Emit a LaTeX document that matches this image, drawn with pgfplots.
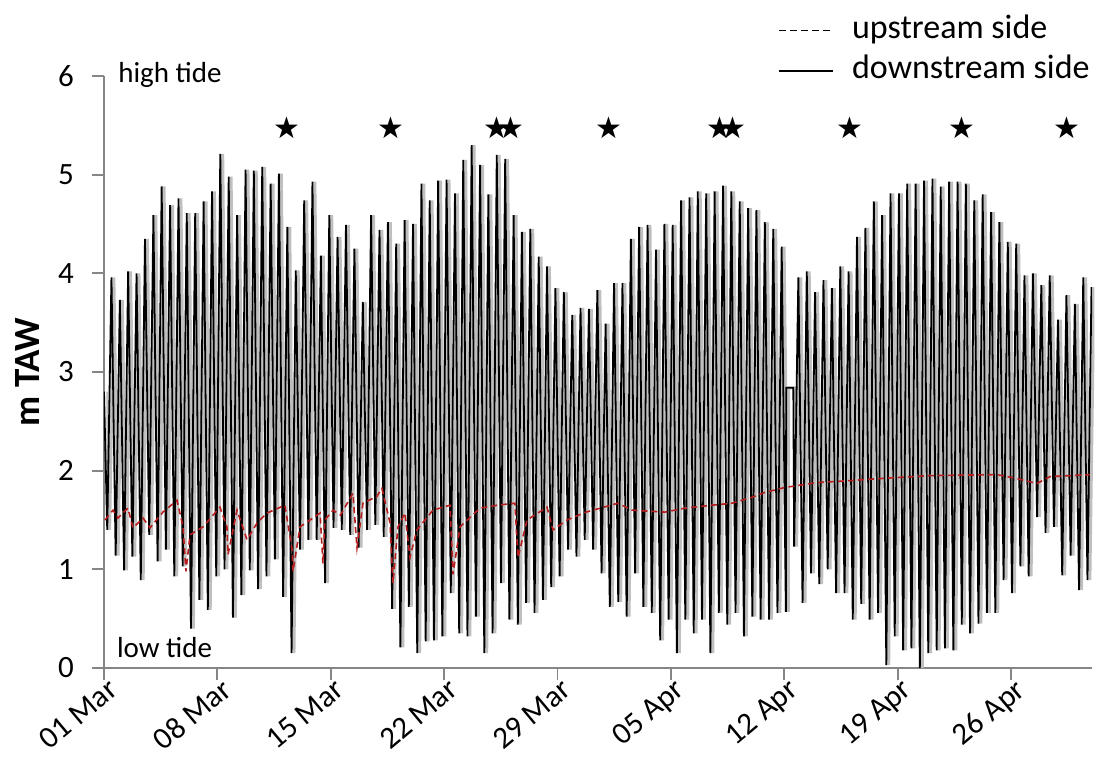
\documentclass[border=0pt]{standalone}
\usepackage{pgfplots}
\pgfplotsset{compat=1.18}
\usepackage{pgfplotstable}
\usepackage{fontspec}
\setmainfont{Carlito}
\newfontfamily\symfont{DejaVu Sans}
\usetikzlibrary{calc}
\definecolor{axgray}{RGB}{134,134,134}
\definecolor{upred}{RGB}{185,30,30}

\pgfplotstableread{
t v
0.00 2.80
0.20 1.40
0.46 3.96
0.72 1.14
0.98 3.73
1.24 0.99
1.49 4.02
1.75 1.13
2.01 4.00
2.27 0.89
2.53 4.35
2.79 1.35
3.05 4.59
3.31 1.08
3.56 4.88
3.82 1.20
4.08 4.69
4.34 0.93
4.60 4.76
4.86 1.03
5.11 4.61
5.37 0.40
5.63 4.61
5.89 0.69
6.15 4.73
6.41 0.59
6.67 4.83
6.93 0.93
7.18 5.21
7.44 1.00
7.70 4.98
7.96 0.51
8.22 4.59
8.48 0.74
8.74 5.05
9.00 0.99
9.25 5.04
9.51 0.80
9.77 5.08
10.03 0.93
10.29 4.91
10.55 1.10
10.80 5.01
11.06 0.72
11.32 4.47
11.58 0.15
11.84 4.03
12.10 1.20
12.36 4.74
12.62 1.30
12.87 4.93
13.13 1.30
13.39 4.18
13.65 0.86
13.91 4.59
14.17 1.42
14.42 4.37
14.68 1.40
14.94 4.49
15.20 1.35
15.46 4.25
15.72 1.22
15.98 3.71
16.24 1.40
16.49 4.59
16.75 1.45
17.01 4.44
17.27 1.33
17.53 4.52
17.79 0.60
18.04 4.30
18.30 0.21
18.56 4.54
18.82 0.62
19.08 4.50
19.34 0.15
19.60 4.91
19.86 0.27
20.11 4.74
20.37 0.28
20.63 4.94
20.89 0.32
21.15 4.95
21.41 0.76
21.67 4.81
21.93 0.35
22.18 5.15
22.44 0.32
22.70 5.30
22.96 0.52
23.22 5.10
23.48 0.15
23.73 4.80
23.99 0.35
24.25 5.20
24.51 0.86
24.77 5.16
25.03 0.49
25.29 4.59
25.55 0.44
25.80 4.42
26.06 0.66
26.32 4.45
26.58 0.56
26.84 4.17
27.10 0.69
27.35 4.07
27.61 0.82
27.87 3.85
28.13 0.93
28.39 3.81
28.65 1.20
28.91 3.58
29.17 1.13
29.42 3.65
29.68 1.30
29.94 3.64
30.20 1.20
30.46 3.83
30.72 0.96
30.97 3.49
31.23 0.62
31.49 3.90
31.75 0.67
32.01 3.90
32.27 0.52
32.53 4.35
32.79 0.96
33.04 4.47
33.30 0.62
33.56 4.49
33.82 0.56
34.08 4.24
34.34 0.28
34.60 4.50
34.86 0.49
35.11 4.49
35.37 0.15
35.63 4.74
35.89 0.49
36.15 4.77
36.41 0.35
36.66 4.83
36.92 0.49
37.18 4.81
37.44 0.15
37.70 4.83
37.96 0.56
38.22 4.89
38.48 0.44
38.73 4.83
38.99 0.56
39.25 4.73
39.51 0.32
39.77 4.66
40.03 0.52
40.28 4.64
40.54 0.49
40.80 4.52
41.06 0.49
41.32 4.45
41.58 0.56
41.84 4.27
42.10 0.57
42.12 2.84
42.56 2.84
42.61 1.23
42.87 3.96
43.13 0.66
43.39 4.02
43.65 0.96
43.90 3.81
44.16 0.85
44.42 3.93
44.68 1.00
44.94 3.85
45.20 0.76
45.46 4.07
45.72 0.76
45.97 4.02
46.23 0.49
46.49 4.37
46.75 0.65
47.01 4.46
47.27 0.49
47.53 4.73
47.79 0.56
48.04 4.59
48.30 0.03
48.56 4.81
48.82 0.32
49.08 4.81
49.34 0.18
49.59 4.91
49.85 0.20
50.11 4.91
50.37 0.00
50.63 4.94
50.89 0.15
51.15 4.96
51.41 0.18
51.66 4.88
51.92 0.20
52.18 4.93
52.44 0.18
52.70 4.93
52.96 0.44
53.21 4.91
53.47 0.35
53.73 4.74
53.99 0.45
54.25 4.80
54.51 0.56
54.77 4.62
55.03 0.56
55.28 4.52
55.54 0.89
55.80 4.32
56.06 0.76
56.32 4.30
56.58 1.03
56.83 3.98
57.09 0.93
57.35 4.00
57.61 1.53
57.87 3.88
58.13 1.37
58.39 3.98
58.65 1.43
58.90 3.53
59.16 0.94
59.42 3.78
59.68 1.14
59.94 3.69
60.20 0.79
60.46 3.96
60.72 0.89
60.97 3.86
61.00 3.80
}\tide

\pgfplotstableread{
t v
0.06 1.50
0.56 1.60
0.86 1.52
1.48 1.62
1.79 1.42
2.41 1.52
2.84 1.42
3.64 1.58
4.51 1.70
4.88 1.43
5.06 0.98
5.31 1.35
6.11 1.43
7.16 1.63
7.59 1.43
7.66 1.15
8.21 1.60
8.83 1.30
9.45 1.47
10.06 1.57
11.17 1.65
11.61 1.20
11.67 0.98
12.10 1.43
13.34 1.57
13.52 1.06
13.64 1.50
14.14 1.60
14.60 1.55
15.37 1.77
15.62 1.22
15.99 1.67
16.85 1.74
17.16 1.82
17.66 1.47
17.84 0.86
18.15 1.43
18.58 1.57
18.89 1.12
19.32 1.40
20.31 1.60
21.36 1.65
21.55 0.95
21.98 1.43
23.21 1.62
24.26 1.65
25.37 1.67
25.56 1.12
26.12 1.50
27.35 1.63
27.72 1.40
28.59 1.50
29.76 1.58
31.73 1.67
32.60 1.60
34.63 1.58
35.87 1.62
37.54 1.65
38.77 1.67
40.01 1.73
40.81 1.78
42.04 1.83
44.08 1.88
45.13 1.89
47.91 1.92
51.00 1.95
55.13 1.96
56.37 1.92
57.60 1.87
58.41 1.94
60.88 1.96
}\upstream

\pgfplotstableread{
t v
11.30 5.48
17.72 5.48
24.26 5.48
25.13 5.48
31.18 5.48
38.03 5.48
38.83 5.48
46.05 5.48
52.97 5.48
59.45 5.48
}\stars

\begin{document}
\begin{tikzpicture}
\begin{axis}[
  name=ax,
  scale only axis,
  width=494pt, height=296pt,
  xmin=0, xmax=61, ymin=0, ymax=6,
  axis x line*=bottom, axis y line*=left,
  axis line style={axgray, line width=0.9pt},
  tick style={axgray, line width=0.9pt},
  tick align=outside,
  major tick length=6pt,
  xtick={0,7,14,21,28,35,42,49,56},
  xticklabels={01 Mar,08 Mar,15 Mar,22 Mar,29 Mar,05 Apr,12 Apr,19 Apr,26 Apr},
  xticklabel style={rotate=40, anchor=north east, font=\fontsize{15.5}{16}\selectfont, inner sep=1pt, xshift=3pt, yshift=1.5pt},
  ytick={0,1,2,3,4,5,6},
  yticklabel style={font=\fontsize{15.5}{16}\selectfont, xshift=-5.5pt},
  /pgf/number format/assume math mode=true,
  ylabel={\textbf{m TAW}},
  every axis y label/.style={at={(axis description cs:-0.077,0.5)}, rotate=90, anchor=center},
  ylabel style={font=\fontsize{18.5}{19}\selectfont},
  legend style={at={(1,1)}, anchor=south east, xshift=3pt, yshift=-8.5pt, draw=none, fill=none,
    font=\fontsize{17}{18}\selectfont, row sep=2pt,
    nodes={inner sep=1pt, text height=12pt, text depth=4pt}},
  legend cell align=left,
  legend image code/.code={\draw[#1] (-8pt,0pt) -- (19pt,0pt); \path (27pt,0pt);},
  clip mode=individual,
]
\addplot[gray!50, line width=1.5pt, xshift=1.2pt, forget plot] table[x=t,y=v] {\tide};
\addplot[black, line width=0.9pt, forget plot] table[x=t,y=v] {\tide};
\addplot[upred, line width=0.8pt, dash pattern=on 3pt off 2pt, forget plot] table[x=t,y=v] {\upstream};
\addplot[only marks, mark=text, text mark={{\symfont\fontsize{15}{15}\selectfont ★}}, forget plot] table[x=t,y=v] {\stars};
\addlegendimage{black, line width=0.7pt, dash pattern=on 3.5pt off 2pt}
\addlegendentry{upstream side}
\addlegendimage{black, line width=0.9pt}
\addlegendentry{downstream side}
\node[anchor=base west, font=\fontsize{14.5}{15}\selectfont, inner sep=0pt] at (axis cs:0.86,5.93) {high tide};
\node[anchor=base west, font=\fontsize{14.5}{15}\selectfont, inner sep=0pt] at (axis cs:0.78,0.11) {low tide};
\end{axis}
\pgfresetboundingbox
\path[use as bounding box] ($(ax.south west)+(-52pt,-44pt)$) rectangle ($(ax.north east)+(2pt,38pt)$);
\end{tikzpicture}
\end{document}
